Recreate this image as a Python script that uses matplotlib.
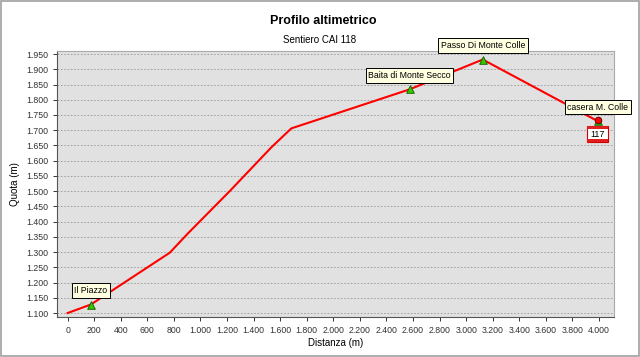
import matplotlib
matplotlib.use("Agg")
import matplotlib.pyplot as plt
from matplotlib.patches import Rectangle
from matplotlib.offsetbox import AnnotationBbox, DrawingArea, TextArea, VPacker
from matplotlib.ticker import FuncFormatter, MultipleLocator

plt.rcParams['font.family'] = ['Liberation Sans', 'DejaVu Sans']

# profilo del sentiero
dist = [0, 175, 769, 907, 1220, 1534, 1684, 2574, 3125, 3990]
quota = [1100, 1128, 1298, 1362, 1500, 1644, 1706, 1834, 1932, 1730]

# punti notevoli
wp_names = ['Il Piazzo', 'Baita di Monte Secco', 'Passo Di Monte Colle', 'casera M. Colle']
wp_dist = [175, 2574, 3125, 3990]
wp_quota = [1128, 1834, 1932, 1730]

end_dist = 3990
end_quota = 1733
trail_no = '117'


def dot_thousands(v, pos):
    return f"{v:,.0f}".replace(',', '.')


def stripe(w, h):
    da = DrawingArea(w, h, 0, 0)
    da.add_artist(Rectangle((0, 0), w, h, fc='#e02020', ec='none'))
    return da


fig = plt.figure(figsize=(6.4, 3.57), dpi=100)
ax = fig.add_axes([57 / 640, 1 - 317 / 357, (614 - 57) / 640, (317 - 51) / 357])
ax.set_facecolor('#e1e1e1')

ax.plot(dist, quota, color='red', lw=1.5, zorder=3)
ax.scatter(wp_dist, wp_quota, marker='^', s=30, color='#33cc00', edgecolor='#1a6600',
           linewidth=0.7, zorder=4)
ax.scatter([end_dist], [end_quota], marker='o', s=22, color='red', edgecolor='#660000',
           linewidth=0.7, zorder=5)

for name, x, y in zip(wp_names, wp_dist, wp_quota):
    ax.annotate(name, (x, y), xytext=(0, 15), textcoords='offset pixels',
                ha='center', va='center_baseline', fontsize=6.3,
                bbox=dict(boxstyle='square,pad=0.3', fc='#ffffe1', ec='black', lw=0.7),
                zorder=6)

# segnavia CAI (rosso-bianco-rosso)
sign = VPacker(children=[stripe(15.5, 2.2),
                         TextArea(trail_no, textprops=dict(fontsize=6.5, color='black')),
                         stripe(15.5, 2.2)],
               align='center', pad=0, sep=0.6)
ab = AnnotationBbox(sign, (end_dist, end_quota), xybox=(0, -10), boxcoords='offset points',
                    frameon=True, pad=0.05,
                    bboxprops=dict(fc='white', ec='#d00000', lw=0.8, boxstyle='square,pad=0'))
ab.set_zorder(7)
ax.add_artist(ab)

ax.set_xlim(-80, 4113)
ax.set_ylim(1087, 1960)
ax.xaxis.set_major_locator(MultipleLocator(200))
ax.yaxis.set_major_locator(MultipleLocator(50))
ax.xaxis.set_major_formatter(FuncFormatter(dot_thousands))
ax.yaxis.set_major_formatter(FuncFormatter(dot_thousands))
ax.tick_params(labelsize=6.3, colors='#333333', length=3, width=0.7)
ax.grid(axis='y', color='#999999', linestyle=(0, (2, 2)), lw=0.6)
ax.set_axisbelow(True)
for side in ['left', 'bottom']:
    ax.spines[side].set_color('#555555')
for side in ['right', 'top']:
    ax.spines[side].set_color('#aaaaaa')

ax.set_xlabel('Distanza (m)', fontsize=7, labelpad=2)
ax.set_ylabel('Quota (m)', fontsize=7, labelpad=4)

fig.text(0.505, 1 - 21 / 357, 'Profilo altimetrico', ha='center', va='center',
         fontsize=9, fontweight='bold')
fig.text(0.5, 1 - 40 / 357, 'Sentiero CAI 118', ha='center', va='center', fontsize=7)

fig.patches.append(Rectangle((0.001, 0.002), 0.997, 0.995, transform=fig.transFigure,
                             fill=False, ec='#a0a0a0', lw=1.2))

fig.savefig('out.png', dpi=100)
